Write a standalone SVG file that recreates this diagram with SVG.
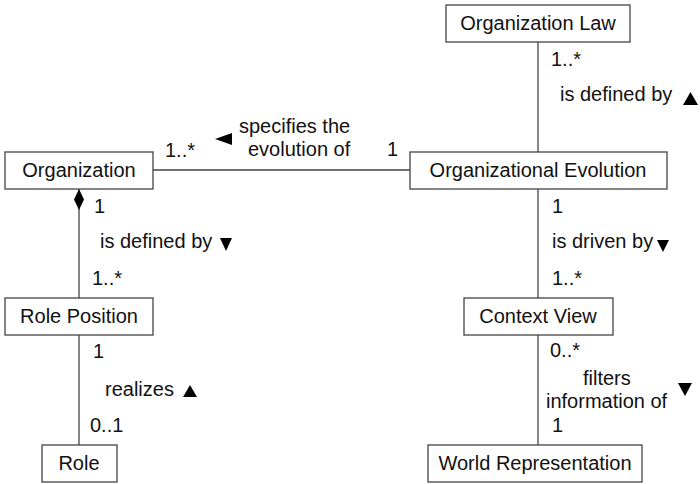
<svg xmlns="http://www.w3.org/2000/svg" width="700" height="484" viewBox="0 0 700 484">
  <style>
    .box { fill: #ffffff; stroke: #444444; stroke-width: 1.3; }
    .line { fill: none; stroke: #444444; stroke-width: 1.3; }
    text { font-family: "Liberation Sans", Arial, sans-serif; font-size: 20px; fill: #111111; }
    .c { text-anchor: middle; }
    .tri { fill: #000000; }
  </style>
  <rect width="700" height="484" fill="#ffffff"/>

  <!-- associations -->
  <g id="connectors">
    <line class="line" x1="153" y1="170" x2="410" y2="170"/>
    <line class="line" x1="538" y1="42" x2="538" y2="152"/>
    <line class="line" x1="79" y1="189" x2="79" y2="298"/>
    <line class="line" x1="79" y1="335" x2="79" y2="445"/>
    <line class="line" x1="538" y1="189" x2="538" y2="298"/>
    <line class="line" x1="538" y1="335" x2="538" y2="445"/>
    <!-- composition diamond at Organization -->
    <polygon class="tri" points="79,189 84,199.5 79,210 74,199.5"/>

    <!-- Organization - Organizational Evolution -->
    <text x="165" y="157">1..*</text>
    <polygon class="tri" points="215,139 232,133 232,145"/>
    <text x="239" y="133">specifies the</text>
    <text x="248" y="156">evolution of</text>
    <text x="387" y="156">1</text>

    <!-- Organization Law - Organizational Evolution -->
    <text x="551" y="66">1..*</text>
    <text x="560" y="101">is defined by</text>
    <polygon class="tri" points="690.5,92 698,105 683,105"/>

    <!-- Organization - Role Position -->
    <text x="94" y="213">1</text>
    <text x="100" y="248">is defined by</text>
    <polygon class="tri" points="220,238 232,238 226,251"/>
    <text x="92" y="285">1..*</text>

    <!-- Role Position - Role -->
    <text x="93" y="358">1</text>
    <text x="105" y="396">realizes</text>
    <polygon class="tri" points="190,385 197,397 183,397"/>
    <text x="90" y="432">0..1</text>

    <!-- Organizational Evolution - Context View -->
    <text x="552" y="213">1</text>
    <text x="552" y="248">is driven by</text>
    <polygon class="tri" points="657,240 669,240 663,252"/>
    <text x="552" y="285">1..*</text>

    <!-- Context View - World Representation -->
    <text x="550" y="357">0..*</text>
    <text x="583" y="385">filters</text>
    <text x="546" y="408">information of</text>
    <text x="552" y="432">1</text>
    <polygon class="tri" points="678,383 692,383 685,396"/>
  </g>

  <g id="organization-law">
    <rect class="box" x="446" y="5" width="184" height="37"/>
    <text class="c" x="538" y="30">Organization Law</text>
  </g>
  <g id="organization">
    <rect class="box" x="5" y="152" width="148" height="37"/>
    <text class="c" x="79" y="177">Organization</text>
  </g>
  <g id="organizational-evolution">
    <rect class="box" x="410" y="152" width="257" height="37"/>
    <text class="c" x="538" y="177">Organizational Evolution</text>
  </g>
  <g id="role-position">
    <rect class="box" x="5" y="298" width="148" height="37"/>
    <text class="c" x="79" y="323">Role Position</text>
  </g>
  <g id="context-view">
    <rect class="box" x="464" y="298" width="149" height="37"/>
    <text class="c" x="538" y="323">Context View</text>
  </g>
  <g id="role">
    <rect class="box" x="42" y="445" width="75" height="37"/>
    <text class="c" x="79" y="470">Role</text>
  </g>
  <g id="world-representation">
    <rect class="box" x="428" y="445" width="214" height="37"/>
    <text class="c" x="535" y="470">World Representation</text>
  </g>
</svg>
